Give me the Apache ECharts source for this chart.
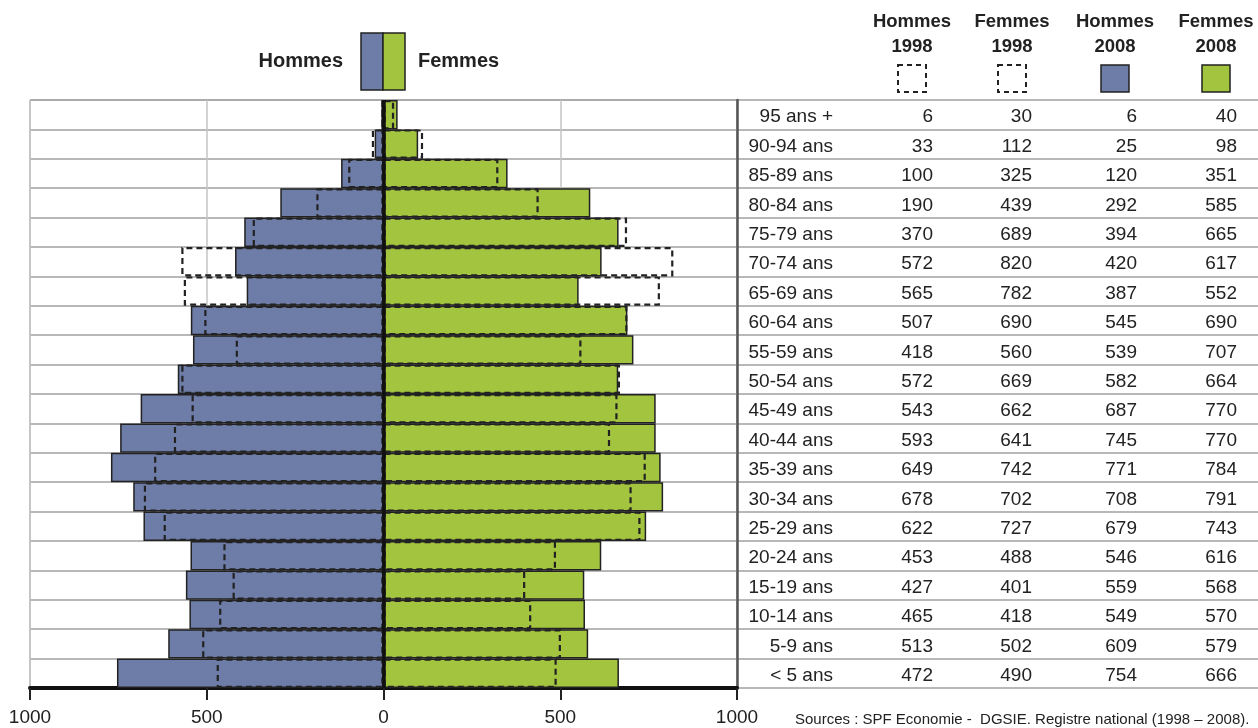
<!DOCTYPE html>
<html>
<head>
<meta charset="utf-8">
<script src="https://cdn.jsdelivr.net/npm/echarts@6/dist/echarts.min.js"></script>
<style>
html,body{margin:0;padding:0;background:#fff;}
#c{width:1258px;height:728px;}
</style>
</head>
<body>
<div id="c"></div>
<script>
// Age groups, top to bottom
var ages = ['95 ans +','90-94 ans','85-89 ans','80-84 ans','75-79 ans','70-74 ans','65-69 ans','60-64 ans','55-59 ans','50-54 ans','45-49 ans','40-44 ans','35-39 ans','30-34 ans','25-29 ans','20-24 ans','15-19 ans','10-14 ans','5-9 ans','< 5 ans'];
var hommes1998 = [6,33,100,190,370,572,565,507,418,572,543,593,649,678,622,453,427,465,513,472];
var femmes1998 = [30,112,325,439,689,820,782,690,560,669,662,641,742,702,727,488,401,418,502,490];
var hommes2008 = [6,25,120,292,394,420,387,545,539,582,687,745,771,708,679,546,559,549,609,754];
var femmes2008 = [40,98,351,585,665,617,552,690,707,664,770,770,784,791,743,616,568,570,579,666];
var xTicks = [-1000,-500,0,500,1000];
var colHeaders = [['Hommes','1998'],['Femmes','1998'],['Hommes','2008'],['Femmes','2008']];
var sourceText = 'Sources : SPF Economie -  DGSIE. Registre national (1998 – 2008).';

var BLUE = '#6E7CA8', GREEN = '#A3C43F', DARK = '#222';
var FONT = '"Liberation Sans", Arial, sans-serif';

var chart = echarts.init(document.getElementById('c'), null, {renderer:'canvas'});

var neg = function(a){ return a.map(function(v){ return -v; }); };

var graphics = [];
// main legend
graphics.push({type:'text', x:343, y:61, style:{text:'Hommes', align:'right', verticalAlign:'middle', font:'bold 20px ' + FONT, fill:DARK}});
graphics.push({type:'rect', x:361, y:33, shape:{width:22, height:57}, style:{fill:BLUE, stroke:DARK, lineWidth:1.5}});
graphics.push({type:'rect', x:383, y:33, shape:{width:22, height:57}, style:{fill:GREEN, stroke:DARK, lineWidth:1.5}});
graphics.push({type:'text', x:418, y:61, style:{text:'Femmes', align:'left', verticalAlign:'middle', font:'bold 20px ' + FONT, fill:DARK}});
// table headers
var colCenters = [912, 1012, 1115, 1216];
colHeaders.forEach(function(h, i){
  var cx = colCenters[i];
  graphics.push({type:'text', x:cx, y:22, style:{text:h[0], align:'center', verticalAlign:'middle', font:'bold 18.5px ' + FONT, fill:DARK}});
  graphics.push({type:'text', x:cx, y:47, style:{text:h[1], align:'center', verticalAlign:'middle', font:'bold 18.5px ' + FONT, fill:DARK}});
  var dashed = i < 2;
  graphics.push({type:'rect', x:cx-14, y:65, shape:{width:28, height:27},
    style:{fill: dashed ? 'transparent' : (i===2 ? BLUE : GREEN), stroke:DARK, lineWidth: dashed ? 2 : 1.5, lineDash: dashed ? [5,4] : null}});
});
graphics.push({type:'text', x:795, y:720, style:{text:sourceText, align:'left', verticalAlign:'middle', font:'15px ' + FONT, fill:DARK}});

var richCell = function(w){ return {width:w, align:'right', fontSize:19, fontFamily:FONT, color:DARK}; };

var option = {
  animation:false,
  backgroundColor:'#fff',
  grid:[
    {left:30, right:521, top:100, bottom:40, show:true, borderColor:'#999', borderWidth:1, backgroundColor:'#fff'},
    {left:737, right:0, top:100, bottom:40, show:false}
  ],
  xAxis:[
    {type:'value', gridIndex:0, min:-1000, max:1000, interval:500,
     axisLine:{show:true, onZero:false, lineStyle:{color:'#111', width:4}},
     axisTick:{show:true, length:12, lineStyle:{color:'#222', width:2}},
     axisLabel:{margin:20, fontSize:19, fontFamily:FONT, color:DARK, formatter:function(v){return String(Math.abs(v));}},
     splitLine:{show:true, lineStyle:{color:'#c4c4c4', width:1.5}}},
    {type:'value', gridIndex:1, show:false, min:0, max:1}
  ],
  yAxis:[
    {type:'category', gridIndex:0, data:ages, inverse:true,
     axisLine:{show:false}, axisTick:{show:false}, axisLabel:{show:false},
     splitLine:{show:true, lineStyle:{color:'#a0a0a0', width:1.5}}},
    {type:'category', gridIndex:1, data:ages, inverse:true,
     axisLine:{show:true, lineStyle:{color:'#555', width:2.5}}, axisTick:{show:false},
     splitLine:{show:true, lineStyle:{color:'#a0a0a0', width:1.5}},
     axisLabel:{show:true, inside:true, margin:0, fontSize:19, fontFamily:FONT, color:DARK, padding:[5,0,0,0],
       formatter:function(v, i){
         return '{a|' + v + '}{b|' + hommes1998[i] + '}{c|' + femmes1998[i] + '}{d|' + hommes2008[i] + '}{e|' + femmes2008[i] + '}';
       },
       rich:{a:richCell(96), b:richCell(100), c:richCell(99), d:richCell(105), e:richCell(100)}}}
  ],
  series:[
    {name:'Hommes 2008', type:'bar', xAxisIndex:0, yAxisIndex:0, data:neg(hommes2008), barGap:'-100%', barCategoryGap:'0%', z:2,
     itemStyle:{color:BLUE, borderColor:DARK, borderWidth:1.5}},
    {name:'Femmes 2008', type:'bar', xAxisIndex:0, yAxisIndex:0, data:femmes2008, barGap:'-100%', barCategoryGap:'0%', z:2,
     itemStyle:{color:GREEN, borderColor:DARK, borderWidth:1.5}},
    {name:'Hommes 1998', type:'bar', xAxisIndex:0, yAxisIndex:0, data:neg(hommes1998), barGap:'-100%', barCategoryGap:'0%', z:3,
     itemStyle:{color:'rgba(0,0,0,0)', borderColor:DARK, borderWidth:2.2, borderType:[6,4]}},
    {name:'Femmes 1998', type:'bar', xAxisIndex:0, yAxisIndex:0, data:femmes1998, barGap:'-100%', barCategoryGap:'0%', z:4,
     itemStyle:{color:'rgba(0,0,0,0)', borderColor:DARK, borderWidth:2.2, borderType:[6,4]},
     markLine:{silent:true, symbol:'none', label:{show:false}, lineStyle:{color:'#111', width:3.5, type:'solid'}, data:[{xAxis:0}]}}
  ],
  graphic:graphics
};
chart.setOption(option);
</script>
</body>
</html>
